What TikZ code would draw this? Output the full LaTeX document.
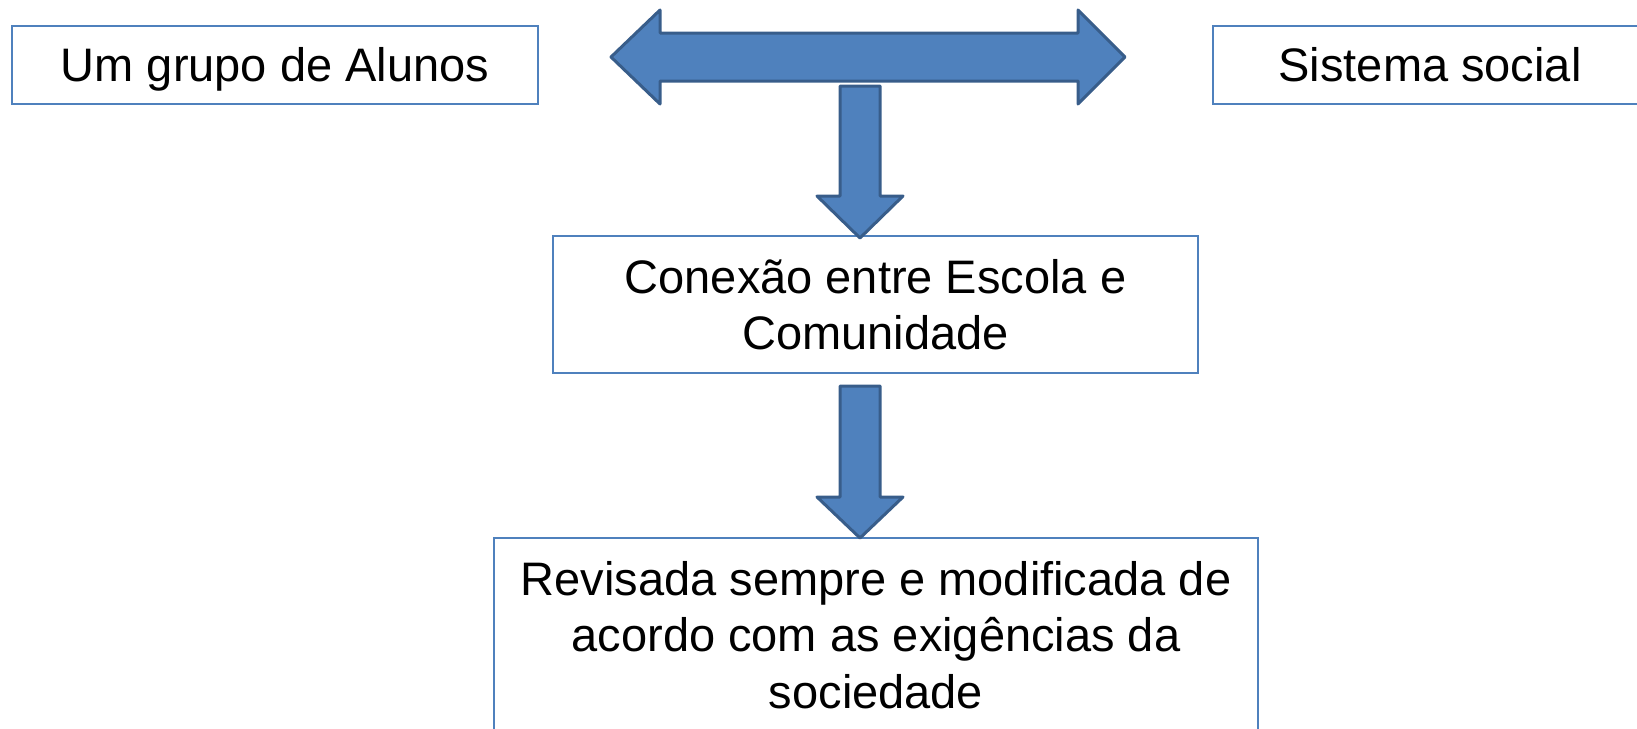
\documentclass[tikz,border=0pt]{standalone}
\usepackage{fontspec}
\setmainfont{Liberation Sans}
\definecolor{caixaazul}{RGB}{79,129,189}
\definecolor{setaazul}{RGB}{79,129,189}
\definecolor{setaborda}{RGB}{56,93,138}
\tikzset{
  caixa/.style={draw=caixaazul, line width=1.5pt, fill=white, align=center,
    inner sep=0pt, font=\fontsize{47}{56.5}\selectfont},
  linha/.style={text height=42.5pt, text depth=10pt},
  seta/.style={fill=setaazul, draw=setaborda, line width=3pt, line join=round}
}
\begin{document}
\begin{tikzpicture}[x=1pt,y=-1pt]
            \useasboundingbox (0,0) rectangle (1637,728);
            % caixas
            \node[caixa, linha, minimum width=526, minimum height=78] (alunos) at (275,65) {Um grupo de Alunos};
            \node[caixa, linha, minimum width=434, minimum height=78] (social) at (1430,65) {Sistema social};
            \node[caixa, minimum width=645, minimum height=137] (conexao) at (875.5,304.5) {Conex\~ao entre Escola e\\Comunidade};
            \node[caixa, minimum width=764, minimum height=194] (revisada) at (876,635) {Revisada sempre e modificada de\\acordo com as exig\^encias da\\sociedade};
            % setas
            \draw[seta]
            (611,57) -- (660,10) -- (660,33) -- (1078,33) -- (1078,10)
            -- (1125,57) -- (1078,104) -- (1078,81) -- (660,81) -- (660,104)
            -- cycle
            ;
            \draw[seta]
            (840,86) -- (880,86) -- (880,196) -- (903,196) -- (860,238)
            -- (817,196) -- (840,196)
            -- cycle
            ;
            \draw[seta]
            (840,386) -- (880,386) -- (880,497) -- (903,497) -- (860,538)
            -- (817,497) -- (840,497)
            -- cycle
            ;
          \end{tikzpicture}
\end{document}
